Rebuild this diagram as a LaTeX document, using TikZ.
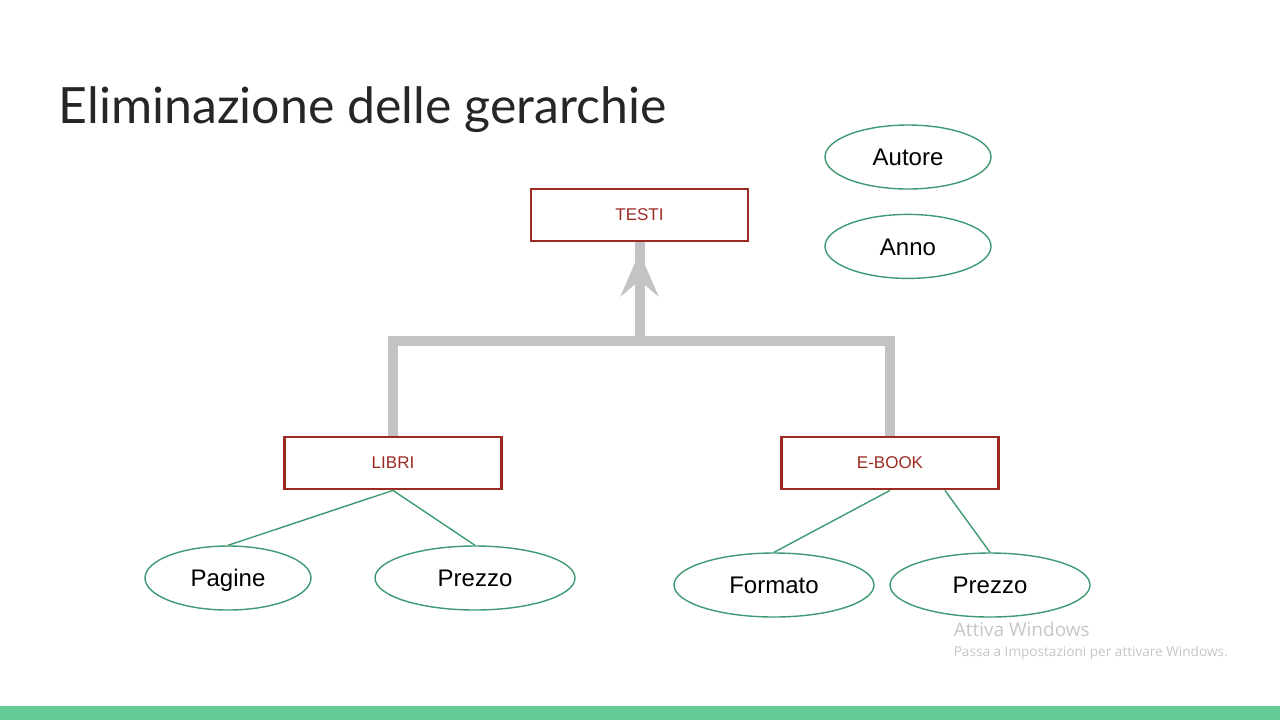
\documentclass[tikz,border=0pt]{standalone}
\usepackage{fontspec}
\setmainfont{Liberation Sans}
\newfontfamily\titlefont{Lato}
\newfontfamily\winfont{Open Sans}
\usetikzlibrary{arrows.meta,positioning,calc,shapes.geometric}
\definecolor{boxred}{HTML}{9B2A22}
\definecolor{attrgreen}{HTML}{3E9A70}
\definecolor{isagray}{HTML}{C3C3C3}
\definecolor{bargreen}{HTML}{63CD95}
\definecolor{wingray}{HTML}{C6C6C6}

\begin{document}
\begin{tikzpicture}[x=0.5pt,y=-0.5pt,thick,
  entity node/.style={rectangle,draw=boxred,line width=1.4pt,text=boxred,minimum width=108.5pt,minimum height=26pt,inner sep=0pt,font=\fontsize{8.5}{10}\selectfont},
  attr node/.style={ellipse,draw=attrgreen,line width=0.7pt,minimum width=83pt,minimum height=32pt,inner sep=0pt,text height=8.6pt,text depth=0pt,font=\fontsize{12}{14}\selectfont},
  wide attr node/.style={attr node,minimum width=100pt},
  attr line/.style={-,draw=attrgreen,line width=0.7pt},
  isa line/.style={-,draw=isagray,line width=5pt,line join=miter}]

  \useasboundingbox (0,0) rectangle (1280,720);
  \fill[bargreen] (0,706) rectangle (1280,720);

  \node[anchor=base west,inner sep=0pt,font=\titlefont\fontsize{25}{29}\selectfont,text=black!85] (title) at (58,123) {Eliminazione delle gerarchie};

  \node[entity node] (T) at (639.5,215) {TESTI};
  \node[entity node] (L) at (393,463) {LIBRI};
  \node[entity node] (E) at (890,463) {E-BOOK};

  \node[attr node] (A) at (908,157) {Autore};
  \node[attr node] (N) [below=12pt of A] {Anno};

  \node[attr node] (P1) at (228,578) {Pagine};
  \node[wide attr node] (P2) at (475,578) {Prezzo};
  \node[wide attr node] (F) at (774,585) {Formato};
  \node[wide attr node] (P3) at (990,585) {Prezzo};

  % generalizzazione
  \coordinate (J) at (639.5,341);
  \draw[isa line] (L.north) |- (J) -| (E.north);
  \draw[isa line] (J) -- (T.south);
  \draw[isa line,-{Stealth[length=22pt,width=19pt,inset=8pt]},shorten >=5pt] (J) -- (T.south);

  % attributi
  \coordinate (Eb) at ($(E.south west)!0.75!(E.south east)$);
  \path[attr line]
    (L.south) edge (P1.north)
    (L.south) edge (P2.north)
    (E.south) edge (F.north)
    (Eb) edge (P3.north);

  \node[anchor=base west,inner sep=0pt,font=\winfont\fontsize{9.5}{11}\selectfont,text=wingray] (w1) at (953,636) {Attiva Windows};
  \node[anchor=base west,inner sep=0pt,font=\winfont\fontsize{6.8}{8}\selectfont,text=wingray] (w2) at (953,656) {Passa a Impostazioni per attivare Windows.};
\end{tikzpicture}
\end{document}
